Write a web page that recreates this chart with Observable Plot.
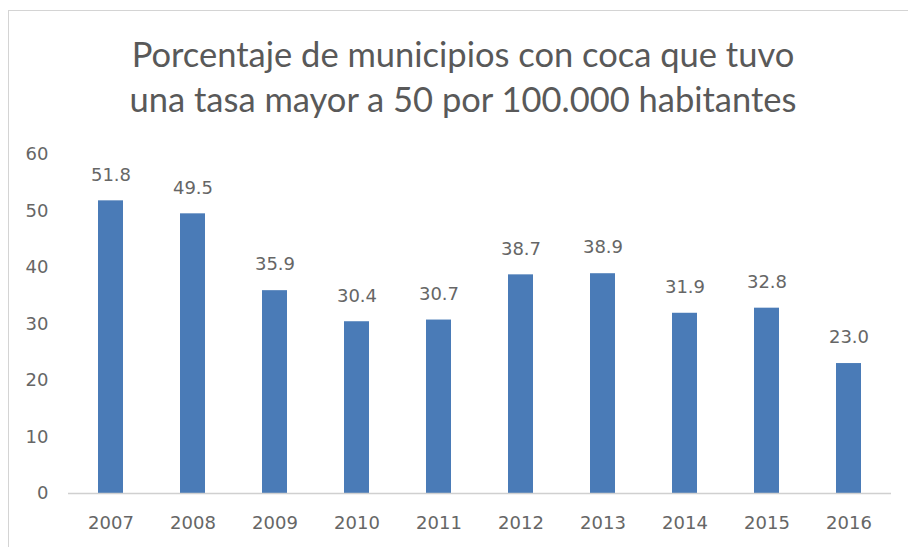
<!DOCTYPE html>
<html>
<head>
<meta charset="utf-8">
<script src="https://cdn.jsdelivr.net/npm/d3@7"></script>
<script src="https://cdn.jsdelivr.net/npm/@observablehq/plot@0.6"></script>
<style>
  html, body { margin: 0; padding: 0; background: #fff; }
  #wrap { position: relative; width: 908px; height: 547px; overflow: hidden; background: #fff; }
  #frame { position: absolute; left: 8px; top: 10px; width: 920px; height: 560px;
           border-left: 1px solid #d4d4d4; border-top: 1px solid #d4d4d4; box-sizing: border-box; }
  #title { position: absolute; left: 9px; width: 908px; top: 31px; text-align: center;
           font-family: Lato, "Open Sans", sans-serif; font-size: 34.5px; line-height: 45px;
           color: #595959; white-space: nowrap; }
  #chart { position: absolute; left: 0; top: 140px; }
</style>
</head>
<body>
<div id="wrap">
  <div id="frame"></div>
  <div id="title">Porcentaje de municipios con coca que tuvo<br>una tasa mayor a 50 por 100.000 habitantes</div>
  <div id="chart"></div>
</div>
<script>
const years = ["2007","2008","2009","2010","2011","2012","2013","2014","2015","2016"];
const values = [51.8, 49.5, 35.9, 30.4, 30.7, 38.7, 38.9, 31.9, 32.8, 23.0];
const yTicks = [0, 10, 20, 30, 40, 50, 60];

const data = years.map((y, i) => ({year: y, value: values[i]}));

const chart = Plot.plot({
  width: 908,
  height: 407,
  marginTop: 14,
  marginBottom: 54,
  marginLeft: 68,
  marginRight: 17,
  style: {fontFamily: "DejaVu Sans, sans-serif", fontSize: "18px", color: "#666", background: "transparent"},
  x: {domain: years, paddingInner: 0.696, paddingOuter: 0.348, label: null},
  y: {domain: [0, 60], label: null},
  marks: [
    Plot.barY(data, {x: "year", y: "value", fill: "#4a7bb7"}),
    Plot.ruleY([0], {stroke: "#d0d0d0", strokeWidth: 1.3}),
    Plot.text(data, {x: "year", y: "value", text: d => d.value.toFixed(1), dy: -26,
                     fill: "#666", fontSize: 18, fontFamily: "DejaVu Sans, sans-serif"}),
    Plot.axisX({tickSize: 0, tickPadding: 23, fontSize: 18, fill: "#666", label: null}),
    Plot.axisY({ticks: yTicks, tickSize: 0, tickPadding: 20, fontSize: 18, fill: "#666", label: null})
  ]
});
document.getElementById("chart").appendChild(chart);
</script>
</body>
</html>
